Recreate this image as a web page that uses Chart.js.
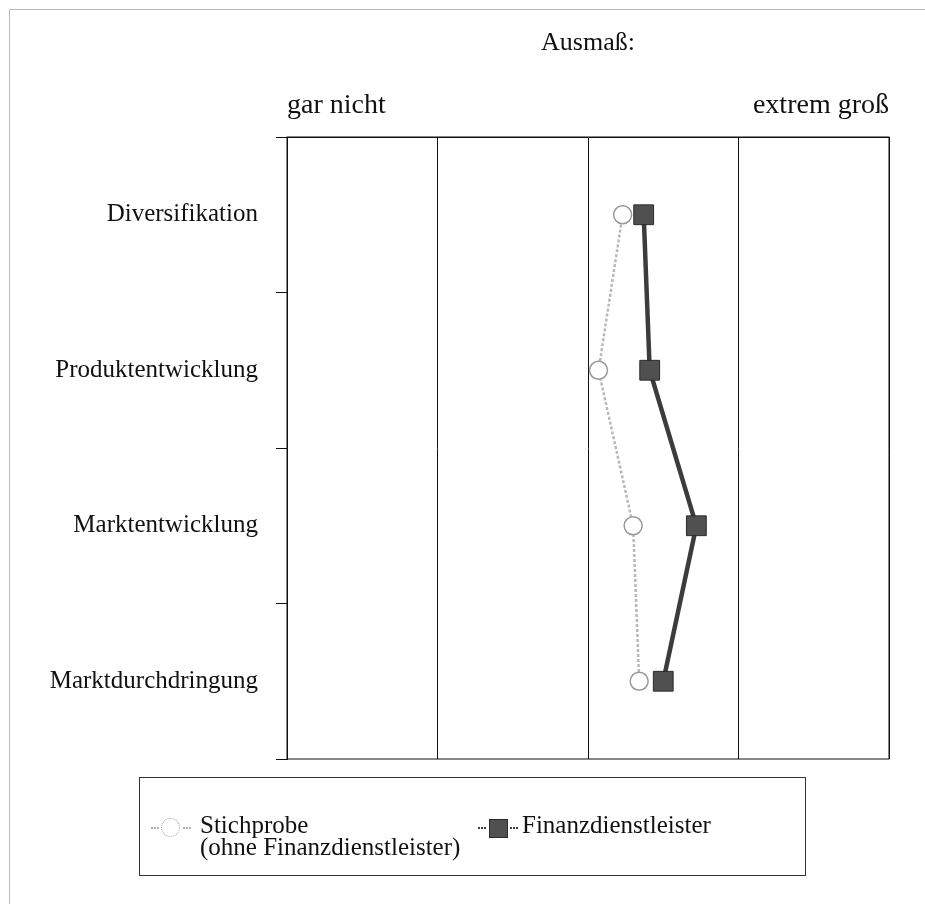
<!DOCTYPE html>
<html>
<head>
<meta charset="utf-8">
<script src="https://cdn.jsdelivr.net/npm/chart.js@4/dist/chart.umd.min.js"></script>
<style>
body { margin: 0; background: #fff; font-family: "Liberation Serif", "Times New Roman", serif; color: #111; }
#page { position: relative; width: 925px; height: 904px; overflow: hidden; }
#pageFrame { position: absolute; left: 9px; top: 9px; width: 930px; height: 910px; border-top: 1px solid #bbb; border-left: 1px solid #bbb; }
#chartBox { position: absolute; left: 0; top: 0; }
#legendBox { position: absolute; left: 139px; top: 777px; width: 665px; height: 97px; border: 1px solid #333; }
.legItem { position: absolute; top: 36px; font-size: 25px; line-height: 22px; }
.legMark { position: absolute; top: 0; width: 40px; height: 20px; }
.stub { position: absolute; top: 9px; width: 8px; height: 0; }
.shape { position: absolute; box-sizing: border-box; }
</style>
</head>
<body>
<div id="page">
	<div id="pageFrame"></div>
	<div id="chartBox"><canvas id="strategyChart" width="925" height="792"></canvas></div>
	<div id="legendBox"></div>
</div>
<script>

// Daten
var categories = ['Diversifikation', 'Produktentwicklung', 'Marktentwicklung', 'Marktdurchdringung'];
var stichprobeValues = [3.23, 3.07, 3.30, 3.34];
var finanzValues = [3.37, 3.41, 3.72, 3.50];
var scaleLabels = ['gar nicht', '', '', '', 'extrem groß'];
var axisTitle = 'Ausmaß:';
var seriesNames = [['Stichprobe', '(ohne Finanzdienstleister)'], ['Finanzdienstleister']];

var serif = '"Liberation Serif", "Times New Roman", serif';

// Rahmen um die Zeichenfläche
var framePlugin = {
	id: 'frame',
	beforeDatasetsDraw: function (chart) {
		var a = chart.chartArea;
		var ctx = chart.ctx;
		ctx.save();
		ctx.strokeStyle = '#111';
		ctx.lineWidth = 1;
		ctx.strokeRect(a.left, a.top, a.right - a.left, a.bottom - a.top);
		ctx.restore();
	}
};

var ctx = document.getElementById('strategyChart');
var chart = new Chart(ctx, {
	type: 'line',
	data: {
		labels: categories,
		datasets: [{
			label: seriesNames[0].join(' '),
			data: stichprobeValues,
			borderColor: '#b8b8b8',
			borderWidth: 2.5,
			borderDash: [3, 2],
			pointStyle: 'circle',
			pointRadius: 9,
			pointBackgroundColor: '#fff',
			pointBorderColor: '#9a9a9a',
			pointBorderWidth: 1.5,
			tension: 0
		}, {
			label: seriesNames[1].join(' '),
			data: finanzValues,
			borderColor: '#3c3c3c',
			borderWidth: 4.5,
			pointStyle: 'rect',
			pointRadius: 14,
			pointBackgroundColor: '#505050',
			pointBorderColor: '#2a2a2a',
			pointBorderWidth: 1,
			tension: 0
		}]
	},
	plugins: [framePlugin],
	options: {
		indexAxis: 'y',
		responsive: false,
		animation: false,
		events: [],
		layout: {
			padding: { top: 20, right: 36, bottom: 11, left: 0 }
		},
		plugins: {
			legend: { display: false },
			tooltip: { enabled: false }
		},
		scales: {
			x: {
				type: 'linear',
				position: 'top',
				min: 1,
				max: 5,
				afterFit: function (scale) { scale.height = 117; },
				ticks: {
					stepSize: 1,
					align: 'inner',
					padding: 15,
					color: '#111',
					font: { family: serif, size: 28 },
					callback: function (value) { return scaleLabels[value - 1]; }
				},
				grid: { color: '#111', lineWidth: 1, drawTicks: false },
				border: { display: true, color: '#111' },
				title: {
					display: true,
					text: axisTitle,
					color: '#111',
					font: { family: serif, size: 26 },
					padding: { top: 8, bottom: 0 }
				}
			},
			y: {
				type: 'category',
				offset: true,
				afterFit: function (scale) { scale.width = 287; },
				ticks: {
					padding: 18,
					color: '#111',
					font: { family: serif, size: 25 }
				},
				grid: {
					offset: true,
					drawOnChartArea: false,
					drawTicks: true,
					tickLength: 11,
					color: '#111'
				},
				border: { display: true, color: '#111' }
			}
		}
	}
});

// Legende als HTML, aus den Datensätzen des Diagramms
function buildLegend() {
	var box = document.getElementById('legendBox');
	var positions = [{ mark: 11, text: 60 }, { mark: 338, text: 382 }];
	chart.data.datasets.forEach(function (ds, i) {
		var mark = document.createElement('div');
		mark.className = 'legMark';
		mark.style.left = positions[i].mark + 'px';
		mark.style.top = '40px';
		var stubColor = i === 0 ? '#b0b0b0' : '#3c3c3c';
		var s1 = document.createElement('div');
		s1.className = 'stub';
		s1.style.left = '0px';
		s1.style.borderTop = '2px dotted ' + stubColor;
		var s2 = document.createElement('div');
		s2.className = 'stub';
		s2.style.left = '32px';
		s2.style.borderTop = '2px dotted ' + stubColor;
		var shape = document.createElement('div');
		shape.className = 'shape';
		if (ds.pointStyle === 'circle') {
			shape.style.left = '10px';
			shape.style.top = '0px';
			shape.style.width = '19px';
			shape.style.height = '19px';
			shape.style.borderRadius = '50%';
			shape.style.border = '1.5px dotted ' + ds.pointBorderColor;
			shape.style.background = ds.pointBackgroundColor;
		} else {
			shape.style.left = '11px';
			shape.style.top = '1px';
			shape.style.width = '19px';
			shape.style.height = '19px';
			shape.style.border = '1px solid ' + ds.pointBorderColor;
			shape.style.background = ds.pointBackgroundColor;
		}
		mark.appendChild(s1);
		mark.appendChild(shape);
		mark.appendChild(s2);
		box.appendChild(mark);

		var txt = document.createElement('div');
		txt.className = 'legItem';
		txt.style.left = positions[i].text + 'px';
		txt.innerHTML = seriesNames[i].join('<br>');
		box.appendChild(txt);
	});
}

buildLegend();

</script>
</body>
</html>
